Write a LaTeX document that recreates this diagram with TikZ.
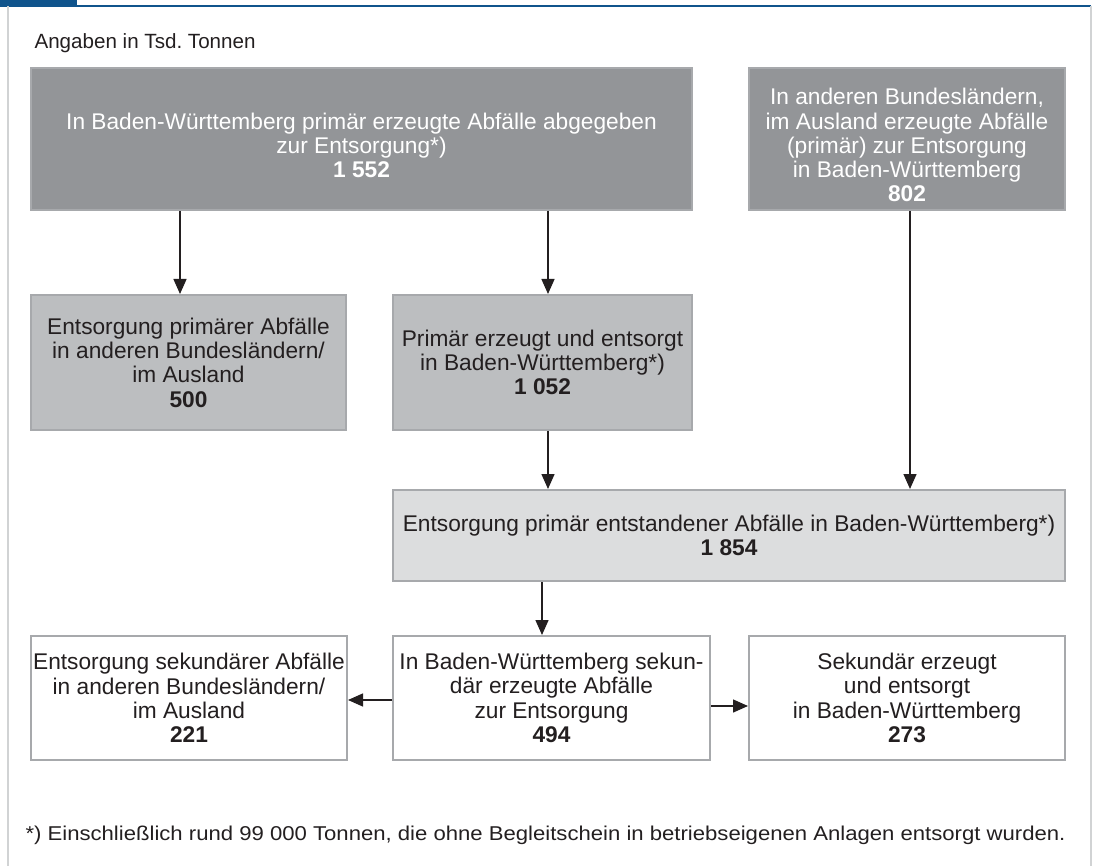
\documentclass[tikz,border=0pt]{standalone}
\usepackage{fontspec}
\setmainfont{Liberation Sans}
\usetikzlibrary{arrows.meta}
\definecolor{darkbox}{RGB}{147,149,152}
\definecolor{midbox}{RGB}{188,190,192}
\definecolor{lightbox}{RGB}{220,221,222}
\definecolor{boxline}{RGB}{167,169,172}
\definecolor{frameline}{RGB}{209,211,212}
\definecolor{headblue}{RGB}{16,84,140}
\definecolor{txt}{RGB}{35,31,32}
\newcommand{\lowerfirst}{\rule{0pt}{29pt}}
\begin{document}
\begin{tikzpicture}[x=1pt, y=-1pt,
    box/.style={draw=boxline, line width=2pt, inner sep=0pt, align=center,
        text=txt, font=\fontsize{22.7}{24.3}\selectfont},
    darkbox/.style={box, fill=darkbox, text=white},
    midbox/.style={box, fill=midbox},
    lightbox/.style={box, fill=lightbox},
    whitebox/.style={box, fill=white},
    arr/.style={line width=1.4pt, draw=txt, -{Triangle[length=15pt, width=13pt]}}]
    \useasboundingbox (0,0) rectangle (1097,866);

    \fill[headblue] (0,0) rectangle (77,6);
    \draw[headblue, line width=1.5pt] (0,6) -- (1091,6);
    \draw[frameline, line width=2pt] (8,6) -- (8,866);
    \draw[frameline, line width=2pt] (1091,6) -- (1091,866);

    \node[anchor=west, text=txt, font=\fontsize{20.6}{24}\selectfont] (unit) at (31,43) {Angaben in Tsd.\ Tonnen};

    \node[darkbox, minimum width=661pt, minimum height=142pt] (bwprim) at (361.5,139)
        {\lowerfirst In Baden-Württemberg primär erzeugte Abfälle abgegeben\\zur Entsorgung*)\\\textbf{1 552}};
    \node[darkbox, minimum width=316pt, minimum height=142pt] (extern) at (907,139)
        {\lowerfirst In anderen Bundesländern,\\im Ausland erzeugte Abfälle\\(primär) zur Entsorgung\\in Baden-Württemberg\\\textbf{802}};

    \node[midbox, minimum width=315pt, minimum height=135pt] (primaus) at (188.5,362.5)
        {Entsorgung primärer Abfälle\\in anderen Bundesländern/\\im Ausland\\\textbf{500}};
    \node[midbox, minimum width=299pt, minimum height=135pt] (primbw) at (542.5,362.5)
        {Primär erzeugt und entsorgt\\in Baden-Württemberg*)\\\textbf{1 052}};

    \node[lightbox, minimum width=672pt, minimum height=91pt] (primges) at (729,535.5)
        {Entsorgung primär entstandener Abfälle in Baden-Württemberg*)\\\textbf{1 854}};

    \node[whitebox, minimum width=316pt, minimum height=124pt] (sekaus) at (189,698)
        {Entsorgung sekundärer Abfälle\\in anderen Bundesländern/\\im Ausland\\\textbf{221}};
    \node[whitebox, minimum width=317pt, minimum height=124pt] (sekbw) at (551.5,698)
        {In Baden-Württemberg sekun-\\där erzeugte Abfälle\\zur Entsorgung\\\textbf{494}};
    \node[whitebox, minimum width=316pt, minimum height=124pt] (sekentsorgt) at (907,698)
        {Sekundär erzeugt\\und entsorgt\\in Baden-Württemberg\\\textbf{273}};

    \draw[arr] ([xshift=-8.5pt]primaus.north |- bwprim.south) -- ([xshift=-8.5pt]primaus.north);
    \draw[arr] ([xshift=5.5pt]primbw.north |- bwprim.south) -- ([xshift=5.5pt]primbw.north);
    \draw[arr] ([xshift=5.5pt]primbw.south) -- ([xshift=5.5pt]primbw.south |- primges.north);
    \draw[arr] ([xshift=3pt]extern.south) -- ([xshift=3pt]extern.south |- primges.north);
    \draw[arr] ([xshift=-9.5pt]sekbw.north |- primges.south) -- ([xshift=-9.5pt]sekbw.north);
    \draw[arr] ([yshift=-2pt]sekbw.west) -- ([yshift=-2pt]sekaus.east);
    \draw[arr] ([yshift=-8pt]sekbw.east) -- ([yshift=-8pt]sekentsorgt.west);

    \node[anchor=west, text=txt, font=\fontsize{20}{24}\selectfont] (note) at (22,835)
        {\resizebox{1040pt}{\height}{*) Einschließlich rund 99 000 Tonnen, die ohne Begleitschein in betriebseigenen Anlagen entsorgt wurden.}};
\end{tikzpicture}
\end{document}
